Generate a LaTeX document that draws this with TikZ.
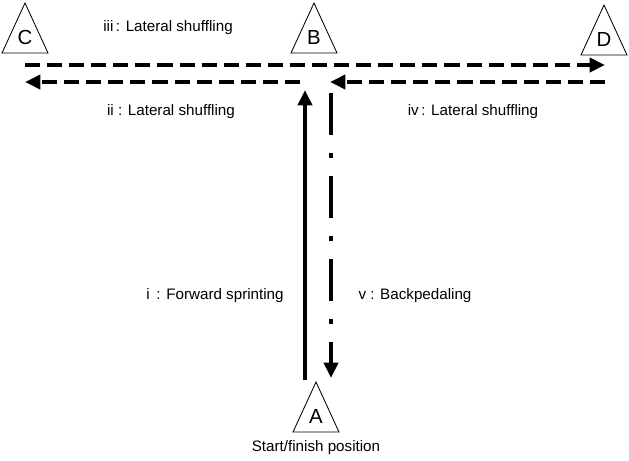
\documentclass[tikz,border=0pt]{standalone}
\usepackage{fontspec}
\setmainfont{Liberation Sans}
\usetikzlibrary{arrows.meta}
\tikzset{
  >={Triangle[length=11pt,width=10pt]},
  letter/.style={inner sep=0pt,font=\fontsize{14.5}{17}\selectfont},
  coneline/.style={line width=0.6pt,line join=miter},
  lbl/.style={font=\fontsize{10.8}{13}\selectfont,inner sep=1pt},
  route/.style={->,line width=3.2pt},
  shuffle/.style={route,dash pattern=on 10.7pt off 5pt},
  backpedal/.style={route,dash pattern=on 30pt off 12.8pt on 3.5pt off 12.8pt},
}
% a cone: letter node plus its triangle
\newcommand{\cone}[4]{%
  \node[letter] (#1) at (#2,#3) {#4};
  \draw[coneline] ([shift={(0,-34)}]#1.center) -- ([shift={(-23,16)}]#1.center)
    -- ([shift={(23,16)}]#1.center) -- cycle;}
\begin{document}
\begin{tikzpicture}[x=0.025cm,y=-0.025cm]
\useasboundingbox (0,0) rectangle (629,460);

% cones
\cone{C}{25}{37}{C}
\cone{B}{314}{37}{B}
\cone{D}{604}{39}{D}
\cone{A}{316}{416}{A}
\node[lbl] (start) at (316,448) {Start/finish position};

% path ends
\coordinate (iiiS) at (25,65);
\coordinate (iiiE) at (605,65);
\coordinate (iiS) at (300,82);
\coordinate (iiE) at (25,82);
\coordinate (ivS) at (605,82);
\coordinate (ivE) at (330,82);
\coordinate (iS) at (305,380);
\coordinate (iE) at (305,90);
\coordinate (vS) at (331,93);
\coordinate (vE) at (331,378);

\draw[route] (iS) -- (iE);
\draw[shuffle] (iiS) -- (iiE);
\draw[shuffle] (iiiS) -- (iiiE);
\draw[shuffle] (ivS) -- (ivE);
\draw[backpedal] (vS) -- (vE);

% labels
\node[lbl] (l3) at (168,28) {iii\,: Lateral shuffling};
\node[lbl] (l2) at (171,112) {ii : Lateral shuffling};
\node[lbl] (l4) at (473,112) {iv\,: Lateral shuffling};
\node[lbl] (l1) at (215,296) {i\, : Forward sprinting};
\node[lbl] (l5) at (415,296) {v : Backpedaling};

\end{tikzpicture}
\end{document}
